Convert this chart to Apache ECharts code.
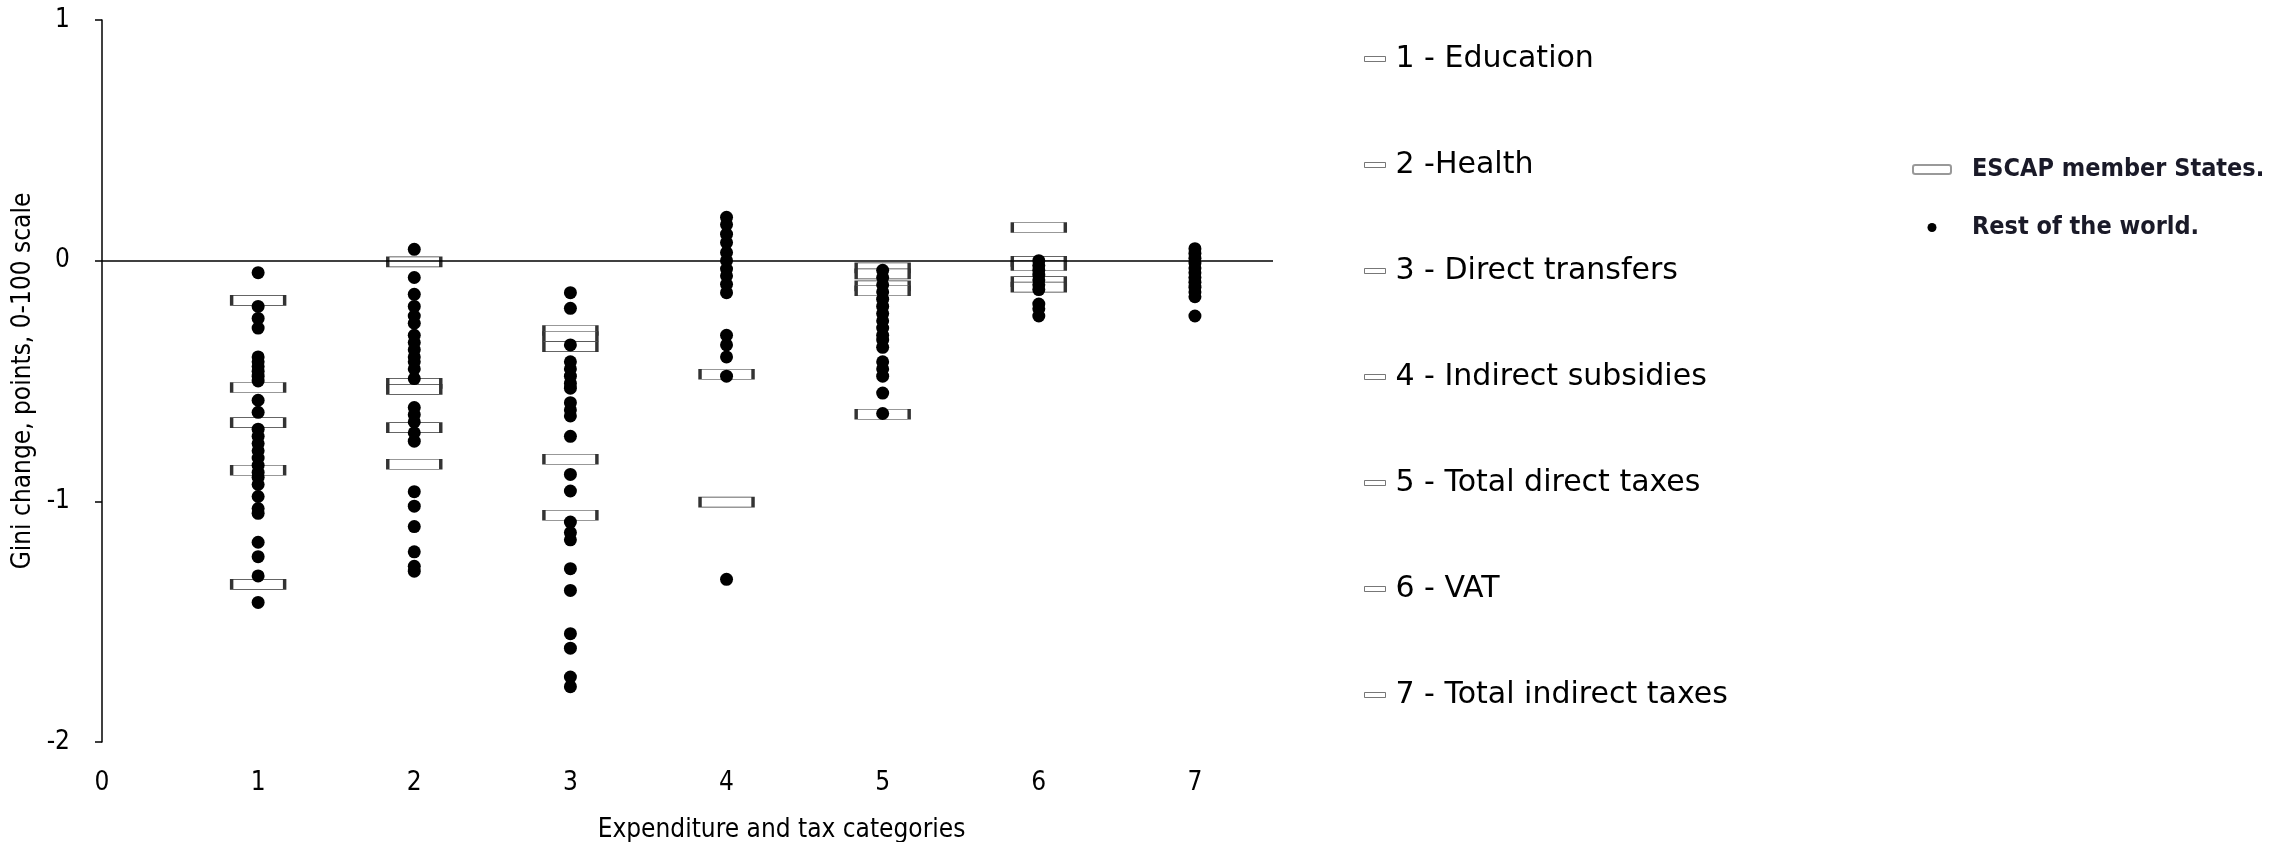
<!DOCTYPE html>
<html>
<head>
<meta charset="utf-8">
<script src="https://cdn.jsdelivr.net/npm/echarts@6/dist/echarts.min.js"></script>
<style>
  html, body { margin: 0; padding: 0; background: #fff; }
  #chart { width: 2277px; height: 842px; }
</style>
</head>
<body>
<div id="chart"></div>
<script>
// categories on the x axis (1..7)
const categories = [
  '1 - Education',
  '2 -Health',
  '3 - Direct transfers',
  '4 - Indirect subsidies',
  '5 - Total direct taxes',
  '6 - VAT',
  '7 - Total indirect taxes'
]
const xTicks = [1, 2, 3, 4, 5, 6, 7]

// ESCAP member States, one list per category
const escapValues = [
  [-0.165, -0.527, -0.673, -0.871, -1.345],
  [-0.005, -0.51, -0.535, -0.694, -0.846],
  [-0.29, -0.315, -0.357, -0.825, -1.058],
  [-0.472, -1.003],
  [-0.03, -0.055, -0.105, -0.125, -0.638],
  [0.138, -0.003, -0.02, -0.087, -0.11],
  []
]

// Rest of the world, one list per category
const restValues = [
  [-0.05, -0.19, -0.24, -0.28, -0.40, -0.42, -0.44, -0.46, -0.48, -0.50, -0.58, -0.63, -0.70, -0.73,
    -0.76, -0.79, -0.82, -0.85, -0.88, -0.90, -0.93, -0.98, -1.03, -1.05, -1.17, -1.23, -1.31, -1.42],
  [0.047, -0.07, -0.14, -0.19, -0.23, -0.26, -0.31, -0.34, -0.37, -0.40, -0.42, -0.45, -0.49, -0.61,
    -0.64, -0.67, -0.715, -0.75, -0.96, -1.02, -1.105, -1.21, -1.27, -1.29],
  [-0.133, -0.198, -0.35, -0.42, -0.45, -0.48, -0.51, -0.53, -0.59, -0.62, -0.645, -0.73, -0.888,
    -0.957, -1.086, -1.13, -1.16, -1.28, -1.37, -1.55, -1.61, -1.73, -1.77],
  [0.18, 0.15, 0.11, 0.075, 0.034, 0.0, -0.035, -0.063, -0.098, -0.133, -0.31, -0.35, -0.40, -0.48, -1.324],
  [-0.04, -0.07, -0.10, -0.13, -0.16, -0.19, -0.22, -0.25, -0.28, -0.31, -0.33, -0.36, -0.42, -0.45,
    -0.48, -0.55, -0.635],
  [0.0, -0.02, -0.04, -0.06, -0.08, -0.10, -0.12, -0.18, -0.20, -0.23],
  [0.05, 0.03, 0.01, -0.01, -0.03, -0.05, -0.07, -0.09, -0.11, -0.13, -0.15, -0.23]
]

const seriesNames = ['ESCAP member States.', 'Rest of the world.']

const narrow = "'Liberation Sans Narrow', 'DejaVu Sans Condensed', sans-serif"

const toPoints = (lists) => {
  const pts = []
  lists.forEach((vals, i) => {
    vals.forEach((v) => pts.push([xTicks[i], v]))
  })
  return pts
}

const myChart = echarts.init(document.getElementById('chart'))

// dummy series only used to list the categories in the left legend
const categorySeries = categories.map((name) => ({
  name: name,
  type: 'scatter',
  data: [],
  itemStyle: { color: '#fff', borderColor: '#555', borderWidth: 1 }
}))

const option = {
  animation: false,
  backgroundColor: '#fff',
  grid: { left: 102, top: 20, width: 1171, height: 722, outerBoundsMode: 'none', containLabel: false },
  legend: [
    {
      data: categories,
      orient: 'vertical',
      left: 1359,
      top: 39,
      icon: 'rect',
      itemWidth: 21,
      itemHeight: 5,
      itemGap: 76,
      selectedMode: false,
      itemStyle: { color: '#fff', borderColor: '#555', borderWidth: 1 },
      textStyle: { fontFamily: 'DejaVu Sans', fontSize: 30, color: '#000', padding: [0, 0, 0, 5] }
    },
    {
      data: [
        { name: seriesNames[0], icon: 'roundRect', itemStyle: { color: '#fff', borderColor: '#999', borderWidth: 2 } },
        { name: seriesNames[1], icon: 'circle', itemStyle: { color: '#000' } }
      ],
      orient: 'vertical',
      left: 1907,
      top: 152,
      itemWidth: 38,
      itemHeight: 9,
      itemGap: 33,
      selectedMode: false,
      textStyle: {
        fontFamily: narrow,
        fontWeight: 'bold',
        fontSize: 25,
        color: '#1a1a28',
        padding: [0, 0, 0, 16]
      }
    }
  ],
  xAxis: {
    type: 'value',
    min: 0,
    max: 7.5,
    interval: 1,
    axisLine: { show: false },
    axisTick: { show: false },
    splitLine: { show: false },
    axisLabel: {
      margin: 28,
      fontSize: 26,
      color: '#000',
      fontFamily: narrow,
      formatter: (v) => (Number.isInteger(v) ? String(v) : '')
    },
    name: 'Expenditure and tax categories',
    nameLocation: 'middle',
    nameGap: 75,
    nameTextStyle: { fontSize: 26, color: '#000', fontFamily: narrow, padding: [0, 0, 0, 188] }
  },
  yAxis: {
    type: 'value',
    min: -2,
    max: 1,
    interval: 1,
    axisLine: { show: true, lineStyle: { color: '#000', width: 1.5 } },
    axisTick: { show: true, length: 7, lineStyle: { color: '#000', width: 1.5 } },
    splitLine: { show: false },
    axisLabel: { margin: 32, fontSize: 26, color: '#000', fontFamily: narrow },
    name: 'Gini change, points, 0-100 scale',
    nameLocation: 'middle',
    nameGap: 54,
    nameTextStyle: { fontSize: 26, color: '#000', fontFamily: narrow }
  },
  series: [
    ...categorySeries,
    {
      name: seriesNames[0],
      type: 'scatter',
      symbol: 'rect',
      symbolSize: [53, 10],
      z: 2,
      itemStyle: { color: '#fff', borderColor: '#333', borderWidth: 1.5, opacity: 1 },
      data: toPoints(escapValues),
      markLine: {
        silent: true,
        symbol: 'none',
        label: { show: false },
        lineStyle: { color: '#000', width: 1.5, type: 'solid' },
        data: [{ yAxis: 0 }]
      }
    },
    {
      name: seriesNames[1],
      type: 'scatter',
      symbol: 'circle',
      symbolSize: 13,
      z: 3,
      itemStyle: { color: '#000', opacity: 1 },
      data: toPoints(restValues)
    }
  ]
}
myChart.setOption(option)
</script>
</body>
</html>
